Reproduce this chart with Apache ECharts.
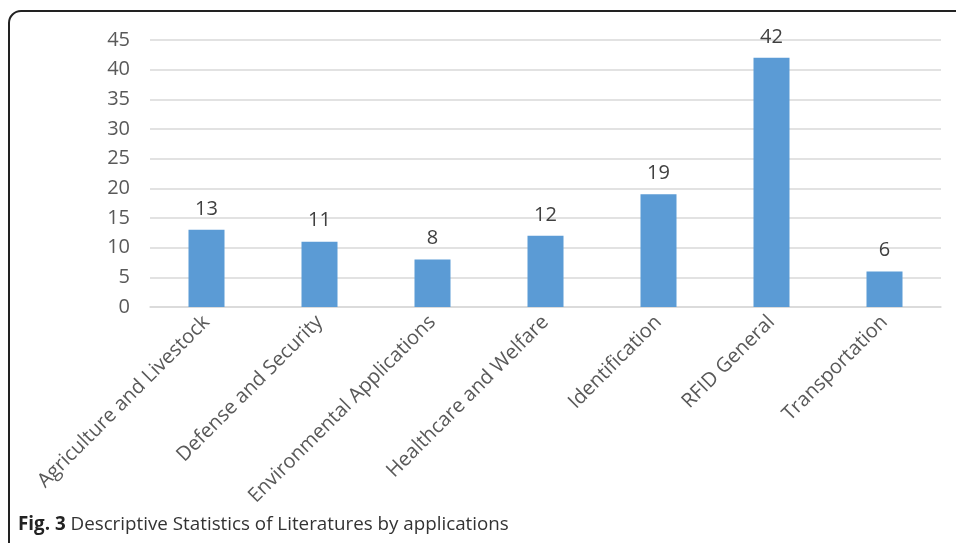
<!DOCTYPE html>
<html>
<head>
<meta charset="utf-8">
<script src="https://cdn.jsdelivr.net/npm/echarts@6/dist/echarts.min.js"></script>
<style>
html,body{margin:0;padding:0;background:#fff;}
#c{width:956px;height:543px;}
</style>
</head>
<body>
<div id="c"></div>
<script>
const categories = ["Agriculture and Livestock","Defense and Security","Environmental Applications","Healthcare and Welfare","Identification","RFID General","Transportation"];
const values = [13, 11, 8, 12, 19, 42, 6];
const yTicks = {min: 0, max: 45, interval: 5};
const captionBold = "Fig. 3";
const captionText = " Descriptive Statistics of Literatures by applications";

const chart = echarts.init(document.getElementById('c'));
chart.setOption({
  animation: false,
  textStyle: {fontFamily: "Open Sans"},
  grid: {left: 150, right: 15, top: 40, bottom: 236, containLabel: false},
  xAxis: {
    type: 'category',
    data: categories,
    axisLine: {show: true, lineStyle: {color: '#d9d9d9', width: 1.5}},
    axisTick: {show: false},
    axisLabel: {rotate: 45, interval: 0, fontSize: 20, color: '#595959', margin: 12, fontFamily: "Open Sans"}
  },
  yAxis: {
    type: 'value',
    min: yTicks.min, max: yTicks.max, interval: yTicks.interval,
    axisLine: {show: false},
    axisTick: {show: false},
    splitLine: {lineStyle: {color: '#d9d9d9', width: 1.5}},
    axisLabel: {fontSize: 20, color: '#595959', margin: 20, fontFamily: "Open Sans"}
  },
  series: [{
    type: 'bar',
    data: values,
    barWidth: 36,
    itemStyle: {color: '#5B9BD5'},
    label: {show: true, position: 'top', distance: 11, fontSize: 20, color: '#404040', fontFamily: "Open Sans"}
  }],
  graphic: [
    {type: 'rect', shape: {x: 9, y: 11, width: 1000, height: 600, r: [12, 0, 0, 0]}, style: {fill: 'none', stroke: '#222', lineWidth: 2}, silent: true},
    {type: 'text', left: 18, top: 515, style: {
      rich: {b: {fontWeight: 'bold', fontSize: 18.8, fontFamily: "Open Sans", fill: '#222'}, n: {fontSize: 18.8, fontFamily: "Open Sans", fill: '#333'}},
      text: '{b|' + captionBold + '}{n|' + captionText + '}'
    }}
  ]
});
</script>
</body>
</html>
